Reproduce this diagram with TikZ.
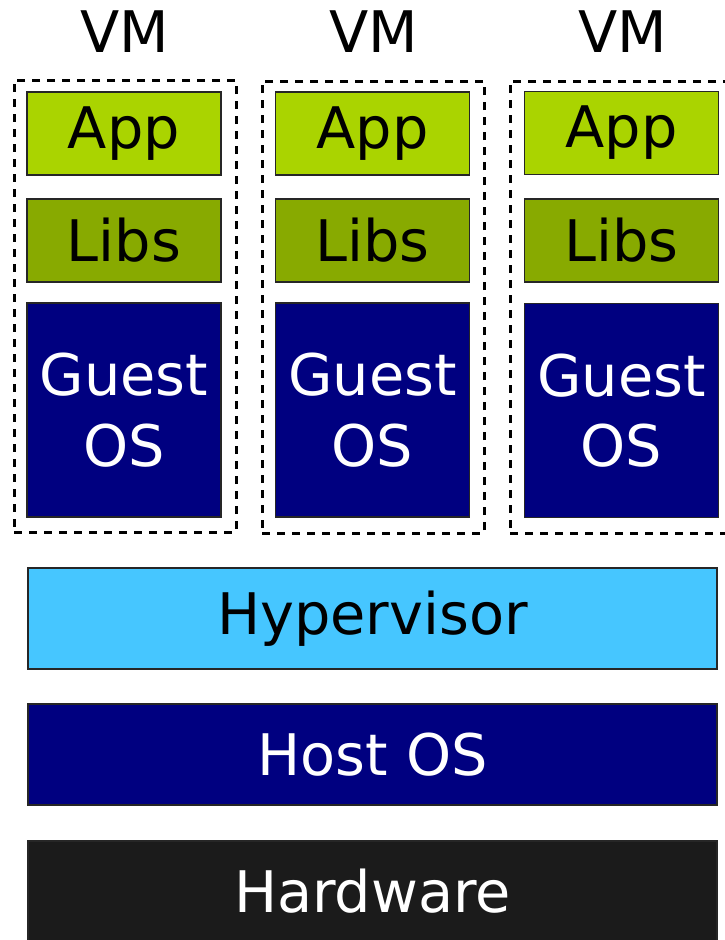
\documentclass[tikz,border=0pt]{standalone}
\usepackage{fontspec}
\setmainfont{DejaVu Sans}
\usetikzlibrary{positioning}

\definecolor{appgreen}{RGB}{170,212,0}
\definecolor{libsgreen}{RGB}{136,170,0}
\definecolor{osnavy}{RGB}{0,0,128}
\definecolor{hypblue}{RGB}{70,198,255}
\definecolor{hwblack}{RGB}{27,27,27}

\tikzset{every picture/.style={line width=0.75pt}}
\tikzset{
  layer/.style={draw=black!85, line width=1.1pt, inner sep=0pt,
    font=\fontsize{43}{53}\selectfont, align=center},
  appbox/.style={layer, fill=appgreen, minimum width=145.5pt, minimum height=62.25pt},
  libsbox/.style={layer, fill=libsgreen, minimum width=145.5pt, minimum height=62.25pt},
  guestbox/.style={layer, fill=osnavy, text=white, minimum width=145.5pt, minimum height=160.5pt},
  widebox/.style={layer, minimum width=516.75pt, minimum height=75.75pt},
  vmframe/.style={draw, line width=2.25pt, dash pattern={on 6.25pt off 5pt},
    minimum width=166.5pt, minimum height=339pt, inner sep=0pt},
  vmlabel/.style={font=\fontsize{43}{53}\selectfont, anchor=base}
}

\begin{document}
\begin{tikzpicture}[x=0.75pt,y=0.75pt,yscale=-1,xscale=1]
\useasboundingbox (0,0) rectangle (725,940);

%VM frames
\node [vmframe] (vm1) at (125,306) {};
\node [vmframe] (vm2) at (373,307) {};
\node [vmframe] (vm3) at (621,307) {};

%VM titles
\node [vmlabel] (vmlab1) at (125,52) {VM};
\node [vmlabel] (vmlab2) at (374,52) {VM};
\node [vmlabel] (vmlab3) at (623,52) {VM};

%Stack of each VM
\node [appbox] (app1) at (124,133.5) {App};
\node [libsbox] (libs1) at (124,240.5) {Libs};
\node [guestbox] (guest1) at (124,410) {Guest\\OS};

\node [appbox] (app2) at (372.5,133.5) {App};
\node [libsbox] (libs2) at (372.5,240.5) {Libs};
\node [guestbox] (guest2) at (372.5,410) {Guest\\OS};

\node [appbox] (app3) at (621.5,133) {App};
\node [libsbox] (libs3) at (621.5,240.5) {Libs};
\node [guestbox] (guest3) at (621.5,410.5) {Guest\\OS};

%Shared layers
\node [widebox, fill=hypblue] (hyper) at (372.5,618.5) {Hypervisor};
\node [widebox, fill=osnavy, text=white] (host) at (372.5,754.5) {Host OS};
\node [widebox, fill=hwblack, text=white] (hw) at (372.5,891.5) {Hardware};

\end{tikzpicture}
\end{document}
